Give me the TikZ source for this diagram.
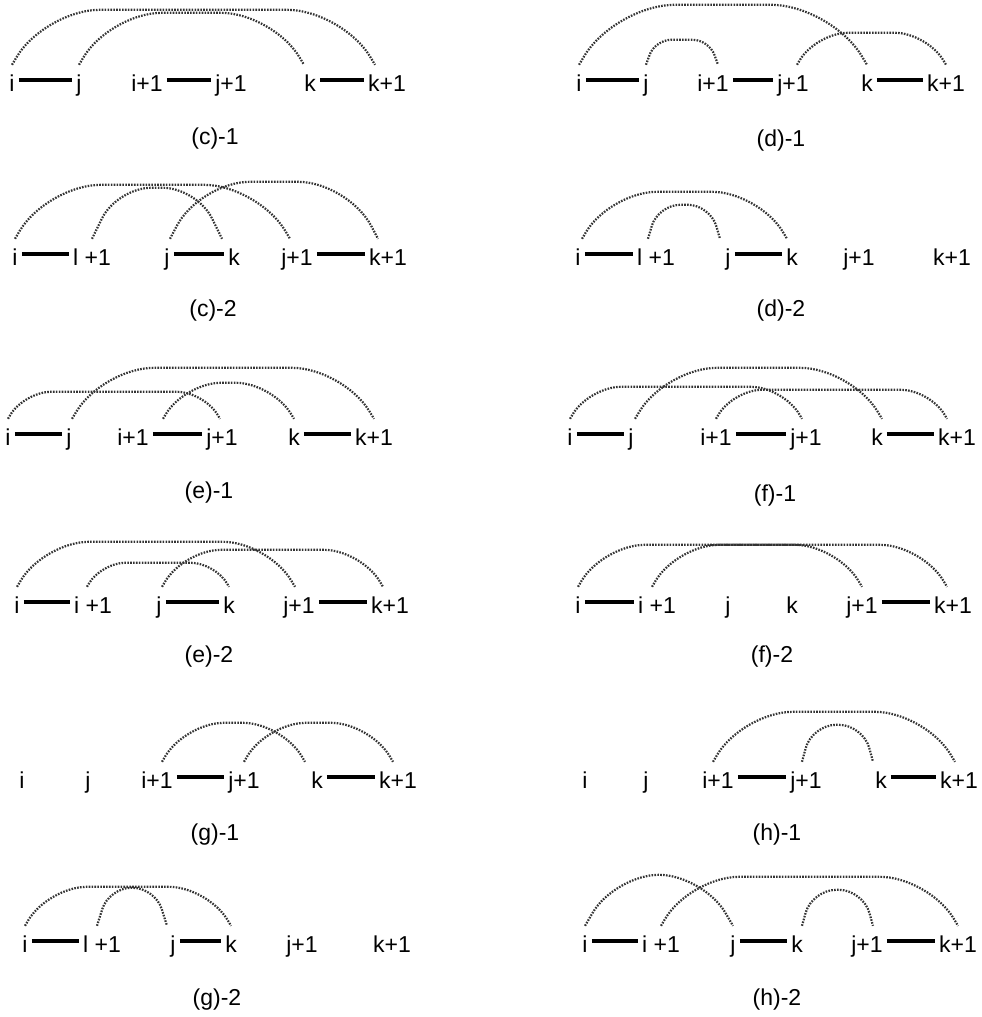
\documentclass[tikz,border=0pt]{standalone}
\usepackage{fontspec}
\setmainfont{Liberation Sans}
\usepackage{tikz}

\tikzset{
  lbl/.style={font=\fontsize{23}{27}\selectfont, inner xsep=4pt, inner ysep=4pt,
    text height=22pt, text depth=0pt},
  captxt/.style={font=\fontsize{23}{27}\selectfont},
  bar/.style={line width=3.4pt},
  link/.style={line width=2.2pt, black!80, dash pattern=on 1.6pt off 1.3pt},
}

\begin{document}
\begin{tikzpicture}[x=1pt, y=-1pt]
        \useasboundingbox (0,0) rectangle (982,1017);
        % (c)-1
        \node[lbl] (c1i) at (12,80) {i};
        \node[lbl] (c1j) at (79,80) {j};
        \node[lbl] (c1ii) at (147,80) {i+1};
        \node[lbl] (c1jj) at (231,80) {j+1};
        \node[lbl] (c1k) at (310,80) {k};
        \node[lbl] (c1kk) at (387,80) {k+1};
        \draw[bar] (c1i) -- (c1j);
        \draw[bar] (c1ii) -- (c1jj);
        \draw[bar] (c1k) -- (c1kk);
        \draw[link, rounded corners=55pt] (c1i.north) -- ++(33,-55) -- ([shift={(-45,-55)}]c1kk.north) -- ([xshift=-12pt]c1kk.north);
        \draw[link, rounded corners=52pt] (c1j.north) -- ++(31,-52) -- ([shift={(-37,-52)}]c1k.north) -- ([xshift=-6pt]c1k.north);
        \node[captxt] (c1cap) at (215,139) {(c)-1};
        % (d)-1
        \node[lbl] (d1i) at (579,80) {i};
        \node[lbl] (d1j) at (646,80) {j};
        \node[lbl] (d1ii) at (713,80) {i+1};
        \node[lbl] (d1jj) at (793,80) {j+1};
        \node[lbl] (d1k) at (867,80) {k};
        \node[lbl] (d1kk) at (946,80) {k+1};
        \draw[bar] (d1i) -- (d1j);
        \draw[bar] (d1ii) -- (d1jj);
        \draw[bar] (d1k) -- (d1kk);
        \draw[link, rounded corners=60pt] (d1i.north) -- ++(36,-60) -- ([shift={(-36,-60)}]d1k.north) -- (d1k.north);
        \draw[link, rounded corners=16pt] (d1j.north) -- ++(9,-25) -- ([shift={(-4,-25)}]d1ii.north) -- ([xshift=5pt]d1ii.north);
        \draw[link, rounded corners=32pt] ([xshift=4pt]d1jj.north) -- ++(19,-32) -- ([shift={(-19,-32)}]d1kk.north) -- (d1kk.north);
        \node[captxt] (d1cap) at (781,141) {(d)-1};
        % (c)-2
        \node[lbl] (c2i) at (15,254) {i};
        \node[lbl] (c2ii) at (92,254) {l +1};
        \node[lbl] (c2j) at (167,254) {j};
        \node[lbl] (c2k) at (234,254) {k};
        \node[lbl] (c2jj) at (297,254) {j+1};
        \node[lbl] (c2kk) at (388,254) {k+1};
        \draw[bar] (c2i) -- (c2ii);
        \draw[bar] (c2j) -- (c2k);
        \draw[bar] (c2jj) -- (c2kk);
        \draw[link, rounded corners=54pt] (c2i.north) -- ++(32,-54) -- ([shift={(-39,-54)}]c2jj.north) -- ([xshift=-7pt]c2jj.north);
        \draw[link, rounded corners=34pt] (c2ii.north) -- ++(25,-51) -- ([shift={(-37,-51)}]c2k.north) -- ([xshift=-12pt]c2k.north);
        \draw[link, rounded corners=50pt] ([xshift=3pt]c2j.north) -- ++(30,-57) -- ([shift={(-40,-57)}]c2kk.north) -- ([xshift=-10pt]c2kk.north);
        \node[captxt] (c2cap) at (213,311) {(c)-2};
        % (d)-2
        \node[lbl] (d2i) at (578,254) {i};
        \node[lbl] (d2ii) at (656,254) {l +1};
        \node[lbl] (d2j) at (728,254) {j};
        \node[lbl] (d2k) at (792,254) {k};
        \node[lbl] (d2jj) at (859,254) {j+1};
        \node[lbl] (d2kk) at (952,254) {k+1};
        \draw[bar] (d2i) -- (d2ii);
        \draw[bar] (d2j) -- (d2k);
        \draw[link, rounded corners=47pt] ([xshift=4pt]d2i.north) -- ++(28,-47) -- ([shift={(-33,-47)}]d2k.north) -- ([xshift=-5pt]d2k.north);
        \draw[link, rounded corners=22pt] ([xshift=-8pt]d2ii.north) -- ++(10,-34) -- ([shift={(-18,-34)}]d2j.north) -- ([xshift=-8pt]d2j.north);
        \node[captxt] (d2cap) at (781,311) {(d)-2};
        % (e)-1
        \node[lbl] (e1i) at (8,434) {i};
        \node[lbl] (e1j) at (69,434) {j};
        \node[lbl] (e1ii) at (133,434) {i+1};
        \node[lbl] (e1jj) at (222,434) {j+1};
        \node[lbl] (e1k) at (294,434) {k};
        \node[lbl] (e1kk) at (374,434) {k+1};
        \draw[bar] (e1i) -- (e1j);
        \draw[bar] (e1ii) -- (e1jj);
        \draw[bar] (e1k) -- (e1kk);
        \draw[link, rounded corners=27pt] (e1i.north) -- ++(16,-27) -- ([shift={(-18,-27)}]e1jj.north) -- ([xshift=-2pt]e1jj.north);
        \draw[link, rounded corners=51pt] ([xshift=3pt]e1j.north) -- ++(31,-51) -- ([shift={(-31,-51)}]e1kk.north) -- (e1kk.north);
        \draw[link, rounded corners=36pt] ([xshift=30pt]e1ii.north) -- ++(22,-36) -- ([shift={(-22,-36)}]e1k.north) -- (e1k.north);
        \node[captxt] (e1cap) at (209,493) {(e)-1};
        % (f)-1
        \node[lbl] (f1i) at (570,434) {i};
        \node[lbl] (f1j) at (631,434) {j};
        \node[lbl] (f1ii) at (716,434) {i+1};
        \node[lbl] (f1jj) at (806,434) {j+1};
        \node[lbl] (f1k) at (877,434) {k};
        \node[lbl] (f1kk) at (957,434) {k+1};
        \draw[bar] (f1i) -- (f1j);
        \draw[bar] (f1ii) -- (f1jj);
        \draw[bar] (f1k) -- (f1kk);
        \draw[link, rounded corners=32pt] (f1i.north) -- ++(19,-32) -- ([shift={(-23,-32)}]f1jj.north) -- ([xshift=-4pt]f1jj.north);
        \draw[link, rounded corners=51pt] ([xshift=4pt]f1j.north) -- ++(31,-51) -- ([shift={(-26,-51)}]f1k.north) -- ([xshift=5pt]f1k.north);
        \draw[link, rounded corners=29pt] (f1ii.north) -- ++(17,-29) -- ([shift={(-27,-29)}]f1kk.north) -- ([xshift=-10pt]f1kk.north);
        \node[captxt] (f1cap) at (775,496) {(f)-1};
        % (e)-2
        \node[lbl] (e2i) at (17,602) {i};
        \node[lbl] (e2ii) at (93,602) {i +1};
        \node[lbl] (e2j) at (159,602) {j};
        \node[lbl] (e2k) at (229,602) {k};
        \node[lbl] (e2jj) at (299,602) {j+1};
        \node[lbl] (e2kk) at (390,602) {k+1};
        \draw[bar] (e2i) -- (e2ii);
        \draw[bar] (e2j) -- (e2k);
        \draw[bar] (e2jj) -- (e2kk);
        \draw[link, rounded corners=45pt] (e2i.north) -- ++(27,-45) -- ([shift={(-31,-45)}]e2jj.north) -- ([xshift=-4pt]e2jj.north);
        \draw[link, rounded corners=24pt] ([xshift=-6pt]e2ii.north) -- ++(14,-24) -- ([shift={(-14,-24)}]e2k.north) -- (e2k.north);
        \draw[link, rounded corners=37pt] ([xshift=3pt]e2j.north) -- ++(22,-37) -- ([shift={(-29,-37)}]e2kk.north) -- ([xshift=-7pt]e2kk.north);
        \node[captxt] (e2cap) at (209,657) {(e)-2};
        % (f)-2
        \node[lbl] (f2i) at (578,602) {i};
        \node[lbl] (f2ii) at (657,602) {i +1};
        \node[lbl] (f2j) at (728,602) {j};
        \node[lbl] (f2k) at (792,602) {k};
        \node[lbl] (f2jj) at (862,602) {j+1};
        \node[lbl] (f2kk) at (953,602) {k+1};
        \draw[bar] (f2i) -- (f2ii);
        \draw[bar] (f2jj) -- (f2kk);
        \draw[link, rounded corners=42pt] (f2i.north) -- ++(25,-42) -- ([shift={(-31,-42)}]f2kk.north) -- ([xshift=-6pt]f2kk.north);
        \draw[link, rounded corners=42pt] ([xshift=-5pt]f2ii.north) -- ++(25,-42) -- ([shift={(-25,-42)}]f2jj.north) -- (f2jj.north);
        \node[captxt] (f2cap) at (772,657) {(f)-2};
        % (g)-1
        \node[lbl] (g1i) at (22,777) {i};
        \node[lbl] (g1j) at (88,777) {j};
        \node[lbl] (g1ii) at (157,777) {i+1};
        \node[lbl] (g1jj) at (244,777) {j+1};
        \node[lbl] (g1k) at (317,777) {k};
        \node[lbl] (g1kk) at (398,777) {k+1};
        \draw[bar] (g1ii) -- (g1jj);
        \draw[bar] (g1k) -- (g1kk);
        \draw[link, rounded corners=39pt] ([xshift=5pt]g1ii.north) -- ++(23,-39) -- ([shift={(-35,-39)}]g1k.north) -- ([xshift=-12pt]g1k.north);
        \draw[link, rounded corners=39pt] (g1jj.north) -- ++(23,-39) -- ([shift={(-28,-39)}]g1kk.north) -- ([xshift=-5pt]g1kk.north);
        \node[captxt] (g1cap) at (215,835) {(g)-1};
        % (h)-1
        \node[lbl] (h1i) at (585,777) {i};
        \node[lbl] (h1j) at (646,777) {j};
        \node[lbl] (h1ii) at (718,777) {i+1};
        \node[lbl] (h1jj) at (806,777) {j+1};
        \node[lbl] (h1k) at (881,777) {k};
        \node[lbl] (h1kk) at (959,777) {k+1};
        \draw[bar] (h1ii) -- (h1jj);
        \draw[bar] (h1k) -- (h1kk);
        \draw[link, rounded corners=50pt] ([xshift=-5pt]h1ii.north) -- ++(30,-50) -- ([shift={(-34,-50)}]h1kk.north) -- ([xshift=-4pt]h1kk.north);
        \draw[link, rounded corners=24pt] ([xshift=-4pt]h1jj.north) -- ++(10,-37) -- ([shift={(-18,-37)}]h1k.north) -- ([xshift=-8pt]h1k.north);
        \node[captxt] (h1cap) at (777,835) {(h)-1};
        % (g)-2
        \node[lbl] (g2i) at (25,941) {i};
        \node[lbl] (g2ii) at (102,941) {l +1};
        \node[lbl] (g2j) at (173,941) {j};
        \node[lbl] (g2k) at (231,941) {k};
        \node[lbl] (g2jj) at (302,941) {j+1};
        \node[lbl] (g2kk) at (392,941) {k+1};
        \draw[bar] (g2i) -- (g2ii);
        \draw[bar] (g2j) -- (g2k);
        \draw[link, rounded corners=39pt] (g2i.north) -- ++(23,-39) -- ([shift={(-23,-39)}]g2k.north) -- (g2k.north);
        \draw[link, rounded corners=22pt] ([xshift=-5pt]g2ii.north) -- ++(12,-38) -- ([shift={(-18,-38)}]g2j.north) -- ([xshift=-6pt]g2j.north);
        \node[captxt] (g2cap) at (217,1000) {(g)-2};
        % (h)-2
        \node[lbl] (h2i) at (585,941) {i};
        \node[lbl] (h2ii) at (661,941) {i +1};
        \node[lbl] (h2j) at (733,941) {j};
        \node[lbl] (h2k) at (797,941) {k};
        \node[lbl] (h2jj) at (867,941) {j+1};
        \node[lbl] (h2kk) at (958,941) {k+1};
        \draw[bar] (h2i) -- (h2ii);
        \draw[bar] (h2j) -- (h2k);
        \draw[bar] (h2jj) -- (h2kk);
        \draw[link, rounded corners=44pt] (h2i.north) -- ++(30,-51) -- ([shift={(-30,-51)}]h2j.north) -- (h2j.north);
        \draw[link, rounded corners=49pt] (h2ii.north) -- ++(29,-49) -- ([shift={(-29,-49)}]h2kk.north) -- (h2kk.north);
        \draw[link, rounded corners=24pt] ([xshift=5pt]h2k.north) -- ++(10,-36) -- ([shift={(-4,-36)}]h2jj.north) -- ([xshift=6pt]h2jj.north);
        \node[captxt] (h2cap) at (777,1000) {(h)-2};
      \end{tikzpicture}
\end{document}
